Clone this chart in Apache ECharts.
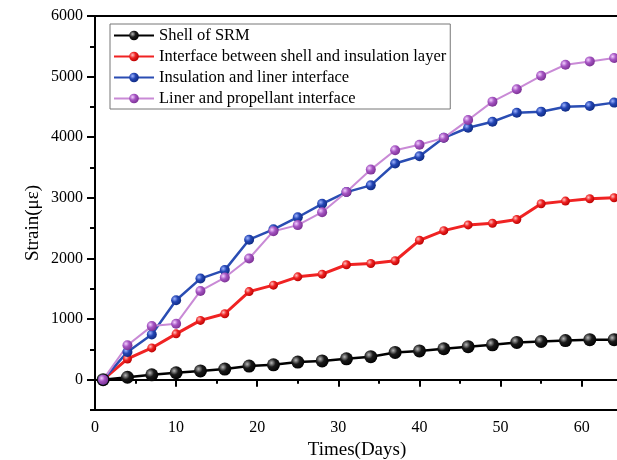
<!DOCTYPE html>
<html>
<head>
<meta charset="utf-8">
<script src="https://cdn.jsdelivr.net/npm/echarts@6/dist/echarts.min.js"></script>
<style>
  html, body { margin: 0; padding: 0; background: #fff; }
  #chart { width: 617px; height: 460px; }
</style>
</head>
<body>
<div id="chart"></div>
<script>
// measurement days (every 3 days)
var days = [1, 4, 7, 10, 13, 16, 19, 22, 25, 28, 31, 34, 37, 40, 43, 46, 49, 52, 55, 58, 61, 64];

// strain values
var shellSRM = [0, 40, 80, 115, 145, 175, 225, 245, 290, 310, 345, 380, 450, 475, 510, 545, 575, 615, 630, 645, 660, 660];
var shellInsulation = [0, 342, 524, 756, 978, 1088, 1453, 1560, 1697, 1741, 1896, 1917, 1962, 2300, 2459, 2554, 2580, 2642, 2902, 2946, 2985, 3002];
var insulationLiner = [0, 458, 746, 1310, 1668, 1808, 2310, 2480, 2680, 2902, 3095, 3206, 3566, 3687, 3990, 4156, 4256, 4405, 4422, 4504, 4516, 4571];
var linerPropellant = [0, 569, 884, 922, 1464, 1685, 2000, 2450, 2550, 2763, 3095, 3466, 3786, 3875, 3990, 4283, 4587, 4793, 5013, 5196, 5251, 5307];

var seriesNames = [
  'Shell of SRM',
  'Interface between shell and insulation layer',
  'Insulation and liner interface',
  'Liner and propellant interface'
];

var yTicks = [0, 1000, 2000, 3000, 4000, 5000, 6000];

var font = 'Liberation Serif';

function pairs(vals) {
  return days.map(function(d, i) { return [d, vals[i]]; });
}

// shaded ball look for markers
function ball(hi, mid, lo) {
  return new echarts.graphic.RadialGradient(0.35, 0.35, 0.7, [
    { offset: 0, color: hi },
    { offset: 0.45, color: mid },
    { offset: 1, color: lo }
  ]);
}

var myChart = echarts.init(document.getElementById('chart'));

var option = {
  backgroundColor: '#fff',
  animation: false,
  textStyle: { fontFamily: font, color: '#000' },
  grid: {
    left: 95,
    top: 16,
    width: 524,
    bottom: 50,
    outerBoundsMode: 'none',
    containLabel: false,
    show: true,
    borderColor: '#000',
    borderWidth: 2,
    backgroundColor: 'transparent'
  },
  legend: {
    orient: 'vertical',
    left: 110,
    top: 24,
    data: seriesNames,
    itemWidth: 40,
    itemHeight: 12,
    itemGap: 4,
    padding: [3, 4, 2, 3],
    borderColor: '#777',
    borderWidth: 1,
    backgroundColor: '#fff',
    textStyle: { fontFamily: font, fontSize: 16.5, color: '#000', lineHeight: 16 }
  },
  xAxis: {
    type: 'value',
    min: 0,
    max: 64.6,
    interval: 10,
    name: 'Times(Days)',
    nameLocation: 'middle',
    nameGap: 29,
    nameTextStyle: { fontFamily: font, fontSize: 19, color: '#000' },
    axisLine: { lineStyle: { color: '#000', width: 2 } },
    axisTick: { inside: false, length: 7, lineStyle: { color: '#000', width: 2 } },
    minorTick: { show: true, splitNumber: 2, length: 4, lineStyle: { color: '#000', width: 2 } },
    splitLine: { show: false },
    axisLabel: {
      fontFamily: font, fontSize: 16, color: '#000', margin: 10,
      formatter: function(v) { return v % 10 === 0 ? String(v) : ''; }
    }
  },
  yAxis: [{
    type: 'value',
    min: -500,
    max: 6000,
    name: 'Strain(\u03bc\u03b5)',
    nameLocation: 'middle',
    nameGap: 52,
    nameMoveOverlap: false,
    nameTextStyle: { fontFamily: font, fontSize: 19, color: '#000', padding: [0, 20, 0, 0] },
    axisLine: { lineStyle: { color: '#000', width: 2 } },
    axisTick: { customValues: yTicks, length: 8, lineStyle: { color: '#000', width: 2 } },
    splitLine: { show: false },
    axisLabel: {
      customValues: yTicks, fontFamily: font, fontSize: 16, color: '#000', margin: 12,
      formatter: function(v) { return String(v); }
    }
  }, {
    type: 'value',
    min: -500,
    max: 6000,
    interval: 500,
    position: 'left',
    axisLine: { show: false },
    axisTick: { length: 5, lineStyle: { color: '#000', width: 2 } },
    splitLine: { show: false },
    axisLabel: { show: false }
  }],
  series: [{
    name: seriesNames[0],
    type: 'line',
    data: pairs(shellSRM),
    symbol: 'circle',
    symbolSize: 13,
    lineStyle: { color: '#000', width: 2.5 },
    itemStyle: { color: ball('#b8b8b8', '#1a1a1a', '#000'), borderWidth: 0 }
  }, {
    name: seriesNames[1],
    type: 'line',
    data: pairs(shellInsulation),
    symbol: 'circle',
    symbolSize: 9,
    lineStyle: { color: '#f02323', width: 3 },
    itemStyle: { color: ball('#ffc0c0', '#ee2222', '#b80000'), borderWidth: 0 }
  }, {
    name: seriesNames[2],
    type: 'line',
    data: pairs(insulationLiner),
    symbol: 'circle',
    symbolSize: 10,
    lineStyle: { color: '#2a4db3', width: 2.5 },
    itemStyle: { color: ball('#9fb4ff', '#2446b5', '#0f2a80'), borderWidth: 0 }
  }, {
    name: seriesNames[3],
    type: 'line',
    data: pairs(linerPropellant),
    symbol: 'circle',
    symbolSize: 10,
    lineStyle: { color: '#c98ad6', width: 2 },
    itemStyle: { color: ball('#f3d0ff', '#a554c2', '#7a3092'), borderWidth: 0 }
  }]
};

myChart.setOption(option);
</script>
</body>
</html>
